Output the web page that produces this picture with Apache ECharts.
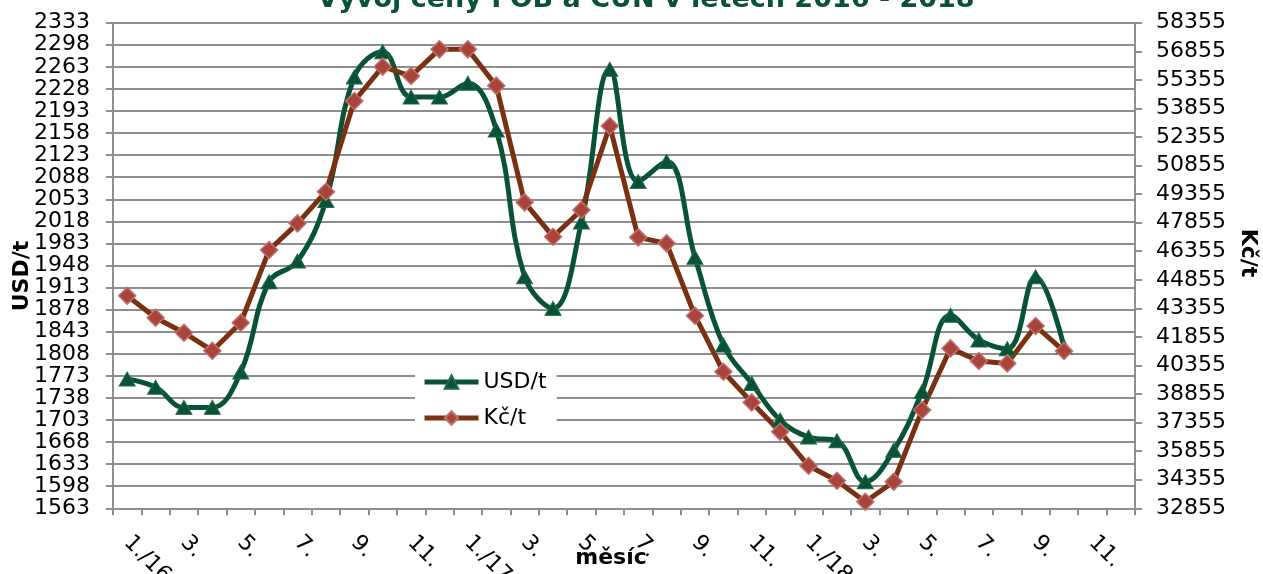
<!DOCTYPE html>
<html>
<head>
<meta charset="utf-8">
<script src="https://cdn.jsdelivr.net/npm/echarts@6/dist/echarts.min.js"></script>
<style>
html,body{margin:0;padding:0;background:#fff;}
#chart{width:1263px;height:574px;}
</style>
</head>
<body>
<div id="chart"></div>
<script>
const categories = [
  '1./16','2.','3.','4.','5.','6.','7.','8.','9.','10.','11.','12.',
  '1./17','2.','3.','4.','5.','6.','7.','8.','9.','10.','11.','12.',
  '1./18','2.','3.','4.','5.','6.','7.','8.','9.','10.','11.','12.'
];
const usdValues = [1768,1755,1723,1723,1779,1922,1955,2051,2247,2287,2215,2215,2237,2163,1930,1880,2017,2259,2081,2113,1961,1822,1761,1703,1676,1670,1605,1655,1748,1869,1830,1816,1930,1819];
const czkValues = [44018,42863,42075,41130,42600,46417,47818,49481,54243,56046,55556,56956,56956,55048,48920,47117,48518,52930,47082,46767,42968,40027,38416,36876,35090,34302,33200,34249,38014,41252,40587,40464,42425,41112];
const seriesNames = ['USD/t','Kč/t'];
const titleText = 'Vývoj ceny FOB a CUN v letech 2016 - 2018';
const axisNames = {x: 'měsíc', left: 'USD/t', right: 'Kč/t'};

const FONT = 'DejaVu Sans';
const GREEN = '#0a5236';
const BROWN = '#7a3112';
const GRID = '#8e8e8e';

const chart = echarts.init(document.getElementById('chart'));
chart.setOption({
  animation: false,
  backgroundColor: '#fff',
  title: {
    text: titleText,
    left: 641, top: -19, textAlign: 'center',
    textStyle: {fontFamily: FONT, fontSize: 27, fontWeight: 'bold', color: GREEN}
  },
  legend: {
    orient: 'vertical',
    left: 415, top: 363,
    padding: [8, 10, 8, 7],
    backgroundColor: '#fff',
    itemWidth: 54, itemHeight: 17, itemGap: 14,
    lineStyle: {width: 5},
    textStyle: {fontFamily: FONT, fontSize: 22, color: '#000'},
    data: seriesNames
  },
  graphic: [{
    type: 'text', x: 22, y: 276, rotation: Math.PI / 2,
    style: {text: axisNames.left, align: 'center', verticalAlign: 'middle',
      font: 'bold 22px "DejaVu Sans"', fill: '#000'}
  }, {
    type: 'text', x: 1248, y: 253, rotation: -Math.PI / 2,
    style: {text: axisNames.right, align: 'center', verticalAlign: 'middle',
      font: 'bold 22px "DejaVu Sans"', fill: '#000'}
  }],
  grid: {left: 113, right: 128, top: 22.7, bottom: 65.7, containLabel: false, outerBoundsMode: 'none'},
  xAxis: {
    type: 'category',
    data: categories,
    boundaryGap: true,
    name: axisNames.x,
    nameLocation: 'middle',
    nameGap: 39,
    nameMoveOverlap: false,
    nameTextStyle: {fontFamily: FONT, fontSize: 22, fontWeight: 'bold', color: '#000', padding: [0, 26, 0, 0]},
    axisLine: {show: true, lineStyle: {color: GRID, width: 2}},
    axisTick: {show: true, interval: 0, length: 7, lineStyle: {color: GRID, width: 2}},
    axisLabel: {interval: 1, rotate: -45, margin: 31, fontFamily: FONT, fontSize: 22, color: '#000'},
    splitLine: {show: false}
  },
  yAxis: [{
    type: 'value',
    min: 1563, max: 2333, interval: 35,
    axisLine: {show: true, lineStyle: {color: GRID, width: 2}},
    axisTick: {show: true, length: 7, lineStyle: {color: GRID, width: 2}},
    axisLabel: {margin: 23, showMinLabel: true, showMaxLabel: true, formatter: v => String(v), fontFamily: FONT, fontSize: 22, color: '#000'},
    splitLine: {show: true, lineStyle: {color: GRID, width: 2}}
  }, {
    type: 'value',
    position: 'right',
    min: 32855, max: 58355, interval: 1500,
    axisLine: {show: true, lineStyle: {color: GRID, width: 2}},
    axisTick: {show: true, length: 7, lineStyle: {color: GRID, width: 2}},
    axisLabel: {margin: 21, showMinLabel: true, showMaxLabel: true, formatter: v => String(v), fontFamily: FONT, fontSize: 22, color: '#000'},
    splitLine: {show: false}
  }],
  series: [{
    name: seriesNames[0],
    type: 'line',
    yAxisIndex: 0,
    data: usdValues,
    smooth: 0.4,
    symbol: 'triangle',
    symbolSize: [16, 14],
    lineStyle: {color: GREEN, width: 5},
    itemStyle: {color: GREEN, borderColor: '#1d6b4d', borderWidth: 1}
  }, {
    name: seriesNames[1],
    type: 'line',
    yAxisIndex: 1,
    data: czkValues,
    smooth: false,
    symbol: 'diamond',
    symbolSize: [17, 17],
    lineStyle: {color: BROWN, width: 5},
    itemStyle: {color: '#a8443c', borderColor: '#c0706a', borderWidth: 1.5}
  }]
});
</script>
</body>
</html>
